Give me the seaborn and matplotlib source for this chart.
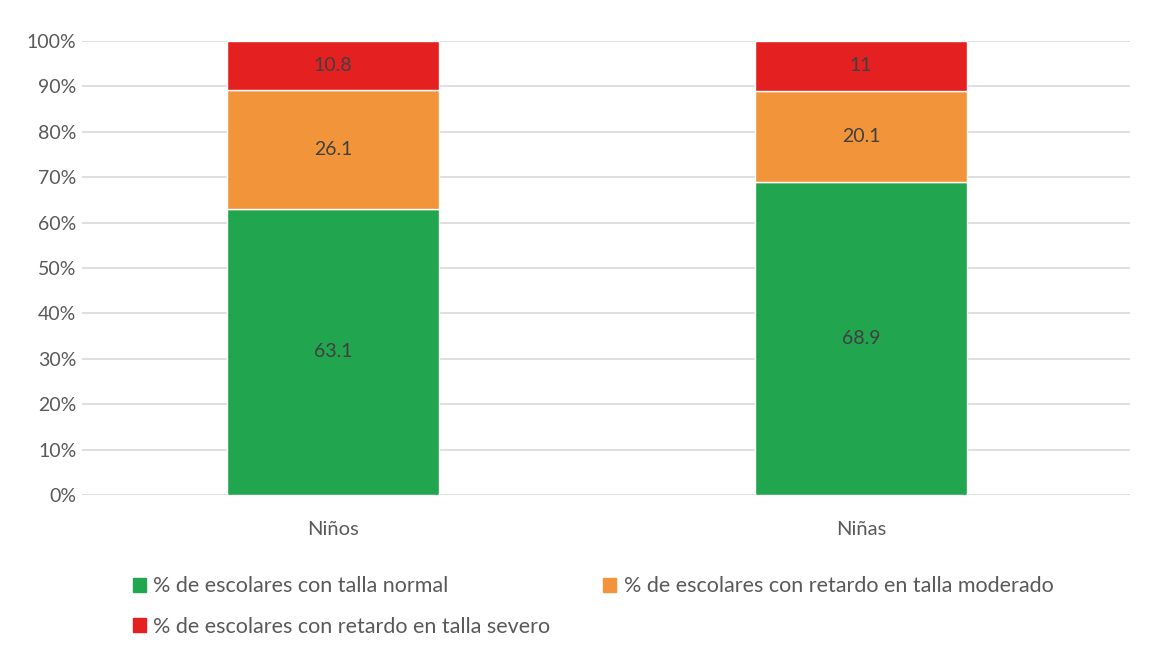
import matplotlib
matplotlib.use("Agg")
import matplotlib.pyplot as plt
import seaborn as sns
import pandas as pd
from matplotlib.patches import Patch
from matplotlib.ticker import FuncFormatter

# datos (porcentajes)
categorias = ["Niños", "Niñas"]
talla_normal = [63.1, 68.9]
retardo_moderado = [26.1, 20.1]
retardo_severo = [10.8, 11]

series = [
    "% de escolares con talla normal",
    "% de escolares con retardo en talla moderado",
    "% de escolares con retardo en talla severo",
]
colores = ["#21A54E", "#F2953A", "#E42020"]
y_ticks = [0, 10, 20, 30, 40, 50, 60, 70, 80, 90, 100]


def main():
    sns.set_theme(style="white")
    plt.rcParams['font.family'] = ['Lato', 'DejaVu Sans']
    gris = "#595959"

    fig = plt.figure(figsize=(11.71, 6.46), dpi=100)
    ax = fig.add_axes([0.070, 0.2337, 0.895, 0.7028])

    df = pd.DataFrame({"cat": categorias, "normal": talla_normal,
                       "moderado": retardo_moderado, "severo": retardo_severo})
    bottom = [0.0] * len(categorias)
    for col, color in zip(["normal", "moderado", "severo"], colores):
        sns.barplot(data=df, x="cat", y=col, color=color, width=0.4,
                    bottom=bottom, ax=ax, saturation=1, zorder=3)
        bottom = [b + v for b, v in zip(bottom, df[col])]

    for cont in ax.containers:
        vals = [r.get_height() for r in cont]
        ax.bar_label(cont, labels=["{:g}".format(v) for v in vals],
                     label_type="center", color="#404040", fontsize=14)

    ax.set_ylim(0, 100)
    ax.set_xlim(-0.475, 1.509)
    ax.set_yticks(y_ticks)
    ax.yaxis.set_major_formatter(FuncFormatter(lambda v, p: "{:.0f}%".format(v)))
    ax.yaxis.grid(True, color="#D9D9D9", linewidth=1.2, zorder=0)
    ax.set_axisbelow(True)
    for s in ax.spines.values():
        s.set_visible(False)
    ax.tick_params(axis="y", length=0, pad=4, labelsize=14, labelcolor=gris)
    ax.tick_params(axis="x", length=0, pad=19, labelsize=14.5, labelcolor=gris)
    ax.set_xlabel("")
    ax.set_ylabel("")

    # leyenda en orden fila por fila
    handles = [Patch(color=colores[0], label=series[0]),
               Patch(color=colores[2], label=series[2]),
               Patch(color=colores[1], label=series[1])]
    fig.legend(handles=handles, ncol=2, loc="upper left",
               bbox_to_anchor=(0.097, 1 - 557 / 646), frameon=False,
               fontsize=15.5, labelcolor=gris, handlelength=0.6,
               handleheight=0.6, handletextpad=0.35, columnspacing=2.45,
               labelspacing=0.95)

    fig.savefig("out.png", dpi=100, facecolor="white")


if __name__ == '__main__':
    main()
